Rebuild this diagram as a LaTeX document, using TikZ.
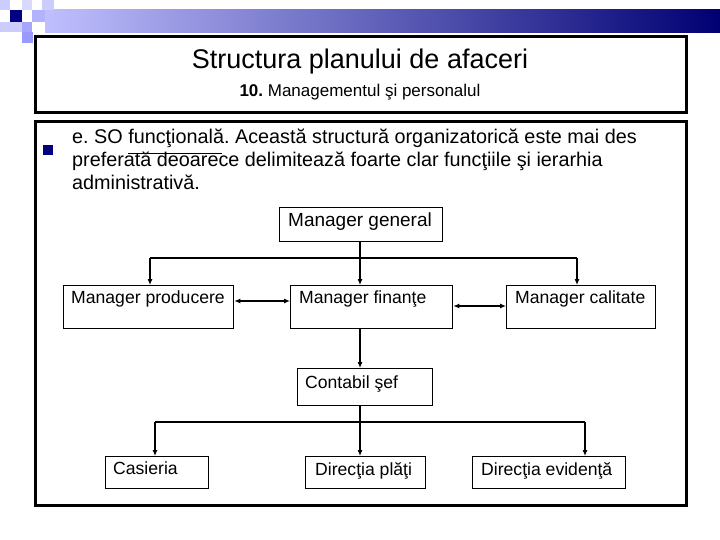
\documentclass[tikz,border=0pt]{standalone}
\usepackage{fontspec}
\setmainfont{Liberation Sans}
\usetikzlibrary{arrows.meta}
\frenchspacing
\begin{document}
\begin{tikzpicture}[x=1pt,y=-1pt,
 frame/.style={draw=black,line width=3pt},
 box/.style={draw=black,line width=1.3pt,fill=white,inner sep=0pt,anchor=north west},
 txt/.style={font=\fontsize{17.6}{20}\selectfont,anchor=north west,inner sep=0pt},
 conn/.style={line width=1.1pt,-{Latex[length=6pt,width=5pt]}},
 dbl/.style={line width=1.1pt,{Latex[length=6pt,width=5pt]}-{Latex[length=6pt,width=5pt]}}]
\useasboundingbox (0,0) rectangle (720,540);
\fill[white] (0,0) rectangle (720,540);
% decoration
\shade[left color=blue!25!white,right color=blue!45!black] (45,10) rectangle (720,33);
\fill[blue!20!white] (0,0) rectangle (10,10);
\fill[blue!15!white] (22,0) rectangle (32,10);
\fill[blue!20!white] (0,22) rectangle (10,32);
\fill[blue!20!white] (10,22) rectangle (22,32);
\fill[blue!35!white] (22,22) rectangle (32,33);
\fill[blue!30!white] (32,10) rectangle (45,22);
\fill[blue!20!white] (42,0) rectangle (54,10);
\fill[blue!40!white] (22,32) rectangle (33,43);
\fill[blue!50!black] (10,10) rectangle (22,22);
% frames
\draw[frame,fill=white] (35,37) rectangle (686,113);
\draw[frame,fill=white] (35,122) rectangle (686,505);
\node (title) at (360,62) {\fontsize{27}{30}\selectfont Structura planului de afaceri};
\node (sub) at (360,92) {\fontsize{17}{20}\selectfont\textbf{10.} Managementul şi personalul};
\fill[blue!50!black] (43,145) rectangle (53,155);
\node[anchor=north west,inner sep=0pt,align=left,font=\fontsize{19.8}{23}\selectfont] (body) at (72,129)
 {e. SO funcţională. Această structură organizatorică este mai des\\
 preferată deoarece delimitează foarte clar funcţiile şi ierarhia\\
 administrativă.};
\draw[line width=0.8pt] (128,153) -- (222,153);
% boxes
\node[box,minimum width=163pt,minimum height=34pt] (mg) at (279,207) {};
\node[txt,font=\fontsize{19}{20}\selectfont] at (288,213) {Manager general};
\node[box,minimum width=170pt,minimum height=43pt] (mp) at (63,285) {};
\node[txt] at (71,291) {Manager producere};
\node[box,minimum width=162pt,minimum height=43pt] (mf) at (290,285) {};
\node[txt] at (299,291) {Manager finanţe};
\node[box,minimum width=149pt,minimum height=43pt] (mc) at (506,285) {};
\node[txt] at (515,291) {Manager calitate};
\node[box,minimum width=135pt,minimum height=37pt] (cs) at (297,368) {};
\node[txt] at (305,376) {Contabil şef};
\node[box,minimum width=103pt,minimum height=32pt] (ca) at (105,456) {};
\node[txt] at (113,462) {Casieria};
\node[box,minimum width=120pt,minimum height=32pt] (dp) at (305,456) {};
\node[txt] at (315,462) {Direcţia plăţi};
\node[box,minimum width=153pt,minimum height=32pt] (de) at (472,456) {};
\node[txt] at (481,462) {Direcţia evidenţă};
% connectors
\coordinate (j1) at (360,258);
\draw[line width=1.1pt] (mg.south -| j1) -- (j1);
\draw[line width=1.1pt] (150,258) -- (577,258);
\draw[conn] (150,258) -- (mp.north -| 150,0);
\draw[conn] (j1) -- (mf.north -| j1);
\draw[conn] (577,258) -- (mc.north -| 577,0);
\draw[dbl] (mp.east |- 0,301) -- (mf.west |- 0,301);
\draw[dbl] (mf.east |- 0,306) -- (mc.west |- 0,306);
\draw[conn] (mf.south -| j1) -- (cs.north -| j1);
\coordinate (j2) at (360,422);
\draw[line width=1.1pt] (cs.south -| j2) -- (j2);
\draw[line width=1.1pt] (155,422) -- (585,422);
\draw[conn] (155,422) -- (ca.north -| 155,0);
\draw[conn] (j2) -- (dp.north -| j2);
\draw[conn] (585,422) -- (de.north -| 585,0);
\end{tikzpicture}
\end{document}
